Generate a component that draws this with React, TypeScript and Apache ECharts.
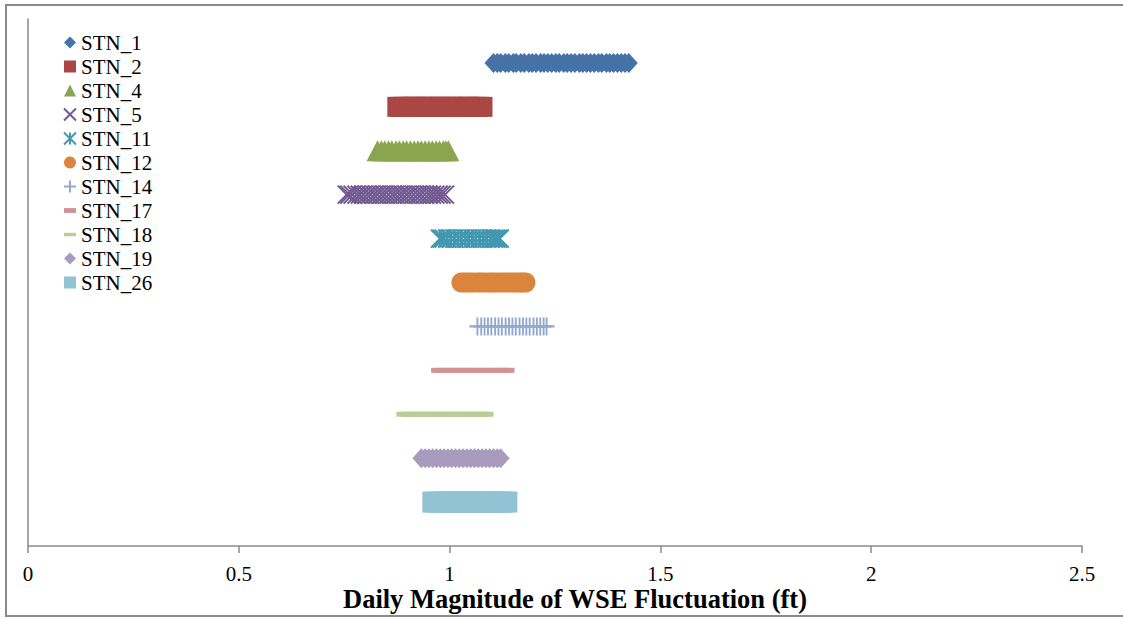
import React, { useEffect, useRef } from "react";
import * as echarts from "echarts";

// Station names (legend order, top row first)
const stations = ["STN_1", "STN_2", "STN_4", "STN_5", "STN_11", "STN_12", "STN_14", "STN_17", "STN_18", "STN_19", "STN_26"];
// Row position of each station on the hidden vertical axis
const stationRows = [11, 10, 9, 8, 7, 6, 5, 4, 3, 2, 1];
const xTicks = [0, 0.5, 1, 1.5, 2, 2.5];

// Daily magnitude of WSE fluctuation (ft)
const stn1 = [1.104, 1.113, 1.121, 1.132, 1.14, 1.151, 1.158, 1.169, 1.177, 1.188, 1.196, 1.205, 1.216, 1.224, 1.233, 1.242, 1.252, 1.26, 1.271, 1.279, 1.288, 1.297, 1.308, 1.316, 1.325, 1.334, 1.343, 1.353, 1.361, 1.372, 1.38, 1.389, 1.398, 1.407, 1.416, 1.425];
const stn2 = [0.876, 0.884, 0.893, 0.905, 0.913, 0.922, 0.934, 0.941, 0.952, 0.961, 0.973, 0.98, 0.991, 1.002, 1.01, 1.021, 1.03, 1.042, 1.049, 1.06, 1.069, 1.078];
const stn4 = [0.829, 0.838, 0.846, 0.855, 0.863, 0.873, 0.881, 0.89, 0.898, 0.907, 0.916, 0.925, 0.933, 0.942, 0.951, 0.959, 0.968, 0.976, 0.985, 0.991, 0.997];
const stn5 = [0.756, 0.762, 0.77, 0.779, 0.787, 0.795, 0.804, 0.812, 0.821, 0.829, 0.838, 0.846, 0.855, 0.864, 0.872, 0.881, 0.889, 0.898, 0.906, 0.915, 0.924, 0.932, 0.941, 0.95, 0.958, 0.966, 0.974, 0.981, 0.989];
const stn11 = [0.977, 0.981, 0.986, 0.994, 1.003, 1.011, 1.02, 1.028, 1.037, 1.045, 1.054, 1.062, 1.071, 1.08, 1.088, 1.097, 1.105, 1.11, 1.115, 1.119];
const stn12 = [1.028, 1.037, 1.046, 1.055, 1.066, 1.074, 1.083, 1.094, 1.102, 1.111, 1.121, 1.13, 1.139, 1.148, 1.157, 1.166, 1.173, 1.18];
const stn14 = [1.066, 1.075, 1.083, 1.091, 1.099, 1.108, 1.116, 1.124, 1.133, 1.141, 1.149, 1.157, 1.166, 1.174, 1.182, 1.19, 1.199, 1.207, 1.215, 1.223, 1.23];
const stn17 = [0.968, 0.977, 0.989, 0.998, 1.01, 1.019, 1.031, 1.04, 1.052, 1.061, 1.073, 1.082, 1.094, 1.103, 1.115, 1.124, 1.134, 1.142];
const stn18 = [0.888, 0.899, 0.911, 0.921, 0.934, 0.945, 0.957, 0.968, 0.98, 0.991, 1.003, 1.014, 1.026, 1.037, 1.049, 1.06, 1.071, 1.081, 1.09];
const stn19 = [0.933, 0.942, 0.951, 0.96, 0.969, 0.978, 0.987, 0.996, 1.005, 1.014, 1.023, 1.032, 1.041, 1.05, 1.059, 1.068, 1.077, 1.086, 1.095, 1.104, 1.113, 1.121];
const stn26 = [0.959, 0.968, 0.978, 0.989, 0.998, 1.009, 1.019, 1.028, 1.039, 1.048, 1.059, 1.068, 1.079, 1.088, 1.099, 1.108, 1.118, 1.127, 1.137];

const stationValues = [stn1, stn2, stn4, stn5, stn11, stn12, stn14, stn17, stn18, stn19, stn26];

const colors = ["#4572A7", "#AA4643", "#89A54E", "#71588F", "#4198AF", "#DB843D", "#93A9CF", "#D19392", "#B9CD96", "#A99BBD", "#92C3D4"];

const X_PATH = "path://M0,0L10,10M10,0L0,10";
const STAR_PATH = "path://M0,0L10,10M10,0L0,10M5,0L5,10";
const PLUS_PATH = "path://M0,5L10,5M5,0L5,10";
const DASH_S = "path://M0,0L10,0L10,4L0,4Z";
const DASH_L = "path://M0,0L14,0L14,4L0,4Z";

const symbolDefs: any[] = [
  { symbol: "diamond", size: [18, 20], stroke: false },
  { symbol: "rect", size: [20, 20], stroke: false },
  { symbol: "triangle", size: [22, 21], stroke: false },
  { symbol: X_PATH, size: [18, 18], stroke: true },
  { symbol: STAR_PATH, size: [18, 18], stroke: true },
  { symbol: "circle", size: [20, 20], stroke: false },
  { symbol: PLUS_PATH, size: [16, 18], stroke: true },
  { symbol: DASH_S, size: [10, 5], stroke: false },
  { symbol: DASH_L, size: [12, 5], stroke: false },
  { symbol: "diamond", size: [18, 20], stroke: false },
  { symbol: "rect", size: [20, 21], stroke: false },
];

const FONT = "Liberation Serif";

export default function App() {
  const ref = useRef<HTMLDivElement>(null);
  useEffect(() => {
    if (!ref.current) return;
    const chart = echarts.init(ref.current, undefined, { renderer: "svg" });
    const series = stations.map((name, i) => {
      const def = symbolDefs[i];
      return {
        name,
        type: "scatter",
        symbol: def.symbol,
        symbolSize: def.size,
        symbolKeepAspect: false,
        data: stationValues[i].map((v) => [v, stationRows[i]]),
        itemStyle: def.stroke
          ? { color: colors[i], borderColor: colors[i], borderWidth: 2, opacity: 1 }
          : { color: colors[i], borderWidth: 0, opacity: 1 },
        emphasis: { disabled: true },
      };
    });
    chart.setOption({
      animation: false,
      backgroundColor: "#ffffff",
      textStyle: { fontFamily: FONT },
      grid: { left: 28, right: 41, top: 19, bottom: 72, containLabel: false },
      xAxis: {
        type: "value",
        min: xTicks[0],
        max: xTicks[xTicks.length - 1],
        interval: 0.5,
        axisLine: { show: true, lineStyle: { color: "#8a8a8a", width: 1.5 } },
        axisTick: { show: true, inside: false, length: 7, lineStyle: { color: "#8a8a8a", width: 1.5 } },
        axisLabel: { color: "#000", fontFamily: FONT, fontSize: 21, margin: 17 },
        splitLine: { show: false },
      },
      yAxis: {
        type: "value",
        min: 0,
        max: 12,
        axisLine: { show: true, lineStyle: { color: "#8a8a8a", width: 1.5 } },
        axisTick: { show: false },
        axisLabel: { show: false },
        splitLine: { show: false },
      },
      legend: {
        orient: "vertical",
        left: 63,
        top: 32,
        padding: 0,
        itemWidth: 12,
        itemHeight: 12,
        itemGap: 3,
        textStyle: { color: "#000", fontFamily: FONT, fontSize: 21, lineHeight: 21 },
        data: stations.map((s, i) => ({
          name: s,
          icon: i === 7 ? "path://M0,0L10,0L10,4L0,4Z" : i === 8 ? "path://M0,0L14,0L14,4L0,4Z" : undefined,
        })),
        selectedMode: false,
      },
      graphic: [
        {
          type: "rect",
          shape: { x: 6, y: 5, width: 1130, height: 611 },
          style: { fill: "none", stroke: "#8a8a8a", lineWidth: 2 },
          silent: true,
        },
        {
          type: "text",
          x: 575,
          y: 599,
          style: {
            text: "Daily Magnitude of WSE Fluctuation (ft)",
            fontFamily: FONT,
            fontWeight: "bold",
            fontSize: 26.5,
            fill: "#000",
            textAlign: "center",
            textVerticalAlign: "middle",
          },
          silent: true,
        },
      ],
      series,
    });
    return () => chart.dispose();
  }, []);
  return (
    <div
      ref={ref}
      style={{ position: "fixed", left: 0, top: 0, width: 1123, height: 618, background: "#fff" }}
    />
  );
}
